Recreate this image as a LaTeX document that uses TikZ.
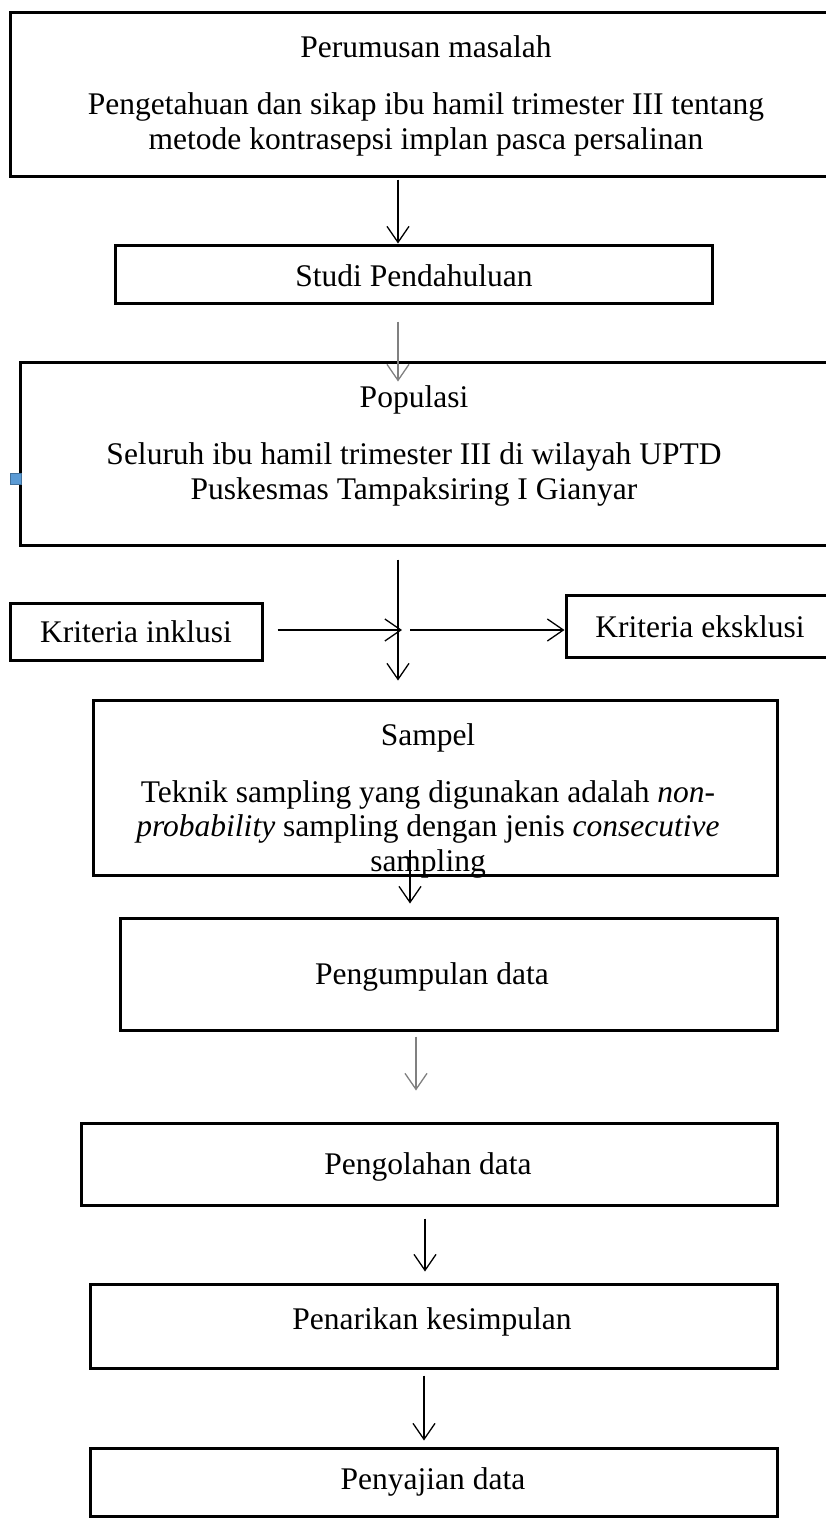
\documentclass[tikz,border=0pt]{standalone}
\usepackage{fontspec}
\setmainfont{Liberation Serif}
\usetikzlibrary{arrows.meta,calc}
\definecolor{handlefill}{HTML}{5B9BD5}
\definecolor{handledraw}{HTML}{41719C}
\begin{document}
\begin{tikzpicture}[x=1pt,y=-1pt,
  box/.style={draw, line width=3pt, rectangle, inner sep=0pt},
  txt/.style={align=center, inner sep=0pt, font=\fontsize{31.5}{34.5}\selectfont},
  conn/.style={-{Straight Barb[length=16pt,width=22pt]}, line width=1.3pt},
  grayconn/.style={conn, draw=gray}
]
\useasboundingbox (0,0) rectangle (826,1519);
\clip (0,0) rectangle (826,1519);
% boxes
\node[box, minimum width=840pt, minimum height=164pt] (perumusan) at (430,94) {};
\node[box, minimum width=597pt, minimum height=58pt] (studi) at (413.5,274) {};
\node[box, minimum width=830pt, minimum height=183pt] (populasi) at (435,453.5) {};
\node[box, minimum width=252pt, minimum height=57pt] (inklusi) at (136,631.5) {};
\node[box, minimum width=284pt, minimum height=62pt] (eksklusi) at (708,626.5) {};
\node[box, minimum width=684pt, minimum height=175pt] (sampel) at (435,787.5) {};
\node[box, minimum width=657pt, minimum height=112pt] (pengumpulan) at (448.5,974) {};
\node[box, minimum width=696pt, minimum height=82pt] (pengolahan) at (429,1164) {};
\node[box, minimum width=687pt, minimum height=84pt] (penarikan) at (433.5,1326) {};
\node[box, minimum width=687pt, minimum height=68pt] (penyajian) at (433.5,1482) {};
% texts
\node[txt] (perumusan-t) at (426,96) {Perumusan masalah\\[22.5pt]Pengetahuan dan sikap ibu hamil trimester III tentang\\metode kontrasepsi implan pasca persalinan};
\node[txt] (studi-t) at (414,276) {Studi Pendahuluan};
\node[txt] (populasi-t) at (414,446) {Populasi\\[22.5pt]Seluruh ibu hamil trimester III di wilayah UPTD\\Puskesmas Tampaksiring I Gianyar};
\node[txt] (inklusi-t) at (136,632) {Kriteria inklusi};
\node[txt] (eksklusi-t) at (700,627) {Kriteria eksklusi};
\node[txt] (sampel-t) at (428,801) {Sampel\\[22pt]Teknik sampling yang digunakan adalah \textit{non-}\\\textit{probability} sampling dengan jenis \textit{consecutive}\\sampling};
\node[txt] (pengumpulan-t) at (432,977) {Pengumpulan data};
\node[txt] (pengolahan-t) at (428,1167) {Pengolahan data};
\node[txt] (penarikan-t) at (432,1322) {Penarikan kesimpulan};
\node[txt] (penyajian-t) at (433,1482) {Penyajian data};
% selection handle
\node[draw=handledraw, fill=handlefill, line width=1pt, minimum size=11pt, inner sep=0pt] (handle) at (15.5,479) {};
% connector reference columns
\coordinate (c1) at (398,0);
\coordinate (c2) at (410,0);
\coordinate (c3) at (416,0);
\coordinate (c4) at (425,0);
\coordinate (c5) at (424,0);
\coordinate (j) at (398,630);
% connectors
\draw[conn] ($(perumusan.south -| c1)+(0,2)$) -- (studi.north -| c1);
\draw[grayconn] ($(studi.south -| c1)+(0,17)$) -- ($(populasi.north -| c1)+(0,21)$);
\draw[conn] ($(populasi.south -| c1)+(0,13)$) -- ($(sampel.north -| c1)+(0,-18)$);
\draw[conn] ($(inklusi.east |- j)+(14,0)$) -- ($(j)+(4,0)$);
\draw[conn] ($(j)+(12,0)$) -- (eksklusi.west |- j);
\draw[conn] ($(sampel.south -| c2)+(0,-27)$) -- ($(pengumpulan.north -| c2)+(0,-13)$);
\draw[grayconn] ($(pengumpulan.south -| c3)+(0,5)$) -- ($(pengolahan.north -| c3)+(0,-31)$);
\draw[conn] ($(pengolahan.south -| c4)+(0,12)$) -- ($(penarikan.north -| c4)+(0,-11)$);
\draw[conn] ($(penarikan.south -| c5)+(0,6)$) -- ($(penyajian.north -| c5)+(0,-6)$);
\end{tikzpicture}
\end{document}
